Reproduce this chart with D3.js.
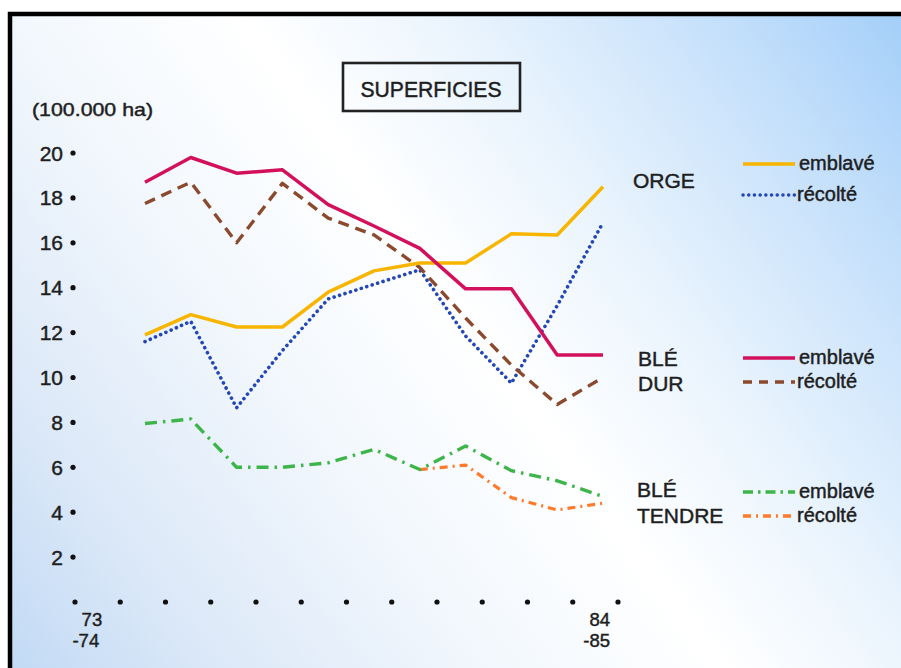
<!DOCTYPE html>
<html>
<head>
<meta charset="utf-8">
<script src="https://cdn.jsdelivr.net/npm/d3@7"></script>
<style>
  html, body { margin: 0; padding: 0; background: #ffffff; }
  svg { display: block; }
  text { font-family: "Liberation Sans", Arial, Helvetica, sans-serif; fill: #1e1e1e;
         stroke: #1e1e1e; stroke-width: 0.45px; }
</style>
</head>
<body>
<div id="chart"></div>
<script>
// ---- Data (100.000 ha) ----
const seasons = [74, 75, 76, 77, 78, 79, 80, 81, 82, 83, 84];
const orgeEmblave      = [11.9, 12.8, 12.25, 12.25, 13.8, 14.75, 15.1, 15.1, 16.4, 16.35, 18.5];
const orgeRecolte      = [11.6, 12.5, 8.65, 11.2, 13.5, 14.15, 14.8, 11.85, 9.75, 13.2, 16.9];
const bleDurEmblave    = [18.7, 19.8, 19.1, 19.25, 17.7, 16.75, 15.75, 13.95, 13.95, 11.0, 11.0];
const bleDurRecolte    = [17.75, 18.7, 16.0, 18.65, 17.1, 16.35, 14.9, 12.65, 10.55, 8.8, 10.0];
const bleTendreEmblave = [7.95, 8.15, 6.0, 6.0, 6.2, 6.8, 5.9, 6.95, 5.85, 5.4, 4.7];
const bleTendreRecolte = [null, null, null, null, null, null, 5.9, 6.1, 4.65, 4.1, 4.4];

const yTicks = [2, 4, 6, 8, 10, 12, 14, 16, 18, 20];
const xTickYears = [73, 84];
const xTickLabels = [["73", "-74"], ["84", "-85"]];
const axisDotCount = 13;

const legendWords = ["emblavé", "récolté"];
const titleText = "SUPERFICIES";
const unitText = "(100.000 ha)";

// ---- Layout ----
const W = 901, H = 668;
const svg = d3.select("#chart").append("svg").attr("width", W).attr("height", H);

const defs = svg.append("defs");
const grad = defs.append("linearGradient").attr("id", "bg")
  .attr("gradientUnits", "userSpaceOnUse")
  .attr("x1", 901).attr("y1", 12).attr("x2", 10).attr("y2", 668);
[[0, "#a4cff9"], [0.15, "#c7e1fb"], [0.33, "#eaf4fd"], [0.48, "#ffffff"],
 [0.64, "#f3f8fd"], [0.84, "#dde9f8"], [1, "#c2daf5"]]
  .forEach(([o, c]) => grad.append("stop").attr("offset", o).attr("stop-color", c));

svg.append("rect").attr("x", 10).attr("y", 14).attr("width", W).attr("height", H)
  .attr("fill", "url(#bg)");
svg.append("path").attr("d", "M10,672V14H905")
  .attr("fill", "none").attr("stroke", "#000").attr("stroke-width", 4.5);

// Scales
const x = d3.scaleLinear().domain([74, 84]).range([145, 603]);
const y = d3.scaleLinear().domain([0, 20]).range([602, 153]);
const dotX = d3.scaleLinear().domain([0, axisDotCount - 1]).range([75, 618]);

// Title box
svg.append("rect").attr("x", 343).attr("y", 63).attr("width", 177).attr("height", 48)
  .attr("fill", "none").attr("stroke", "#222").attr("stroke-width", 2.6);
svg.append("text").attr("x", 431).attr("y", 96.5).attr("text-anchor", "middle")
  .attr("font-size", 22).attr("textLength", 141).attr("lengthAdjust", "spacingAndGlyphs")
  .text(titleText);

// Unit
svg.append("text").attr("x", 32).attr("y", 116).attr("font-size", 19)
  .attr("textLength", 121).attr("lengthAdjust", "spacingAndGlyphs").text(unitText);

// Y axis: labels + dots
const yAx = svg.append("g");
yAx.selectAll("circle").data(yTicks).join("circle")
  .attr("cx", 73).attr("cy", d => y(d)).attr("r", 2.6).attr("fill", "#111");
yAx.selectAll("text").data(yTicks).join("text")
  .attr("x", 63).attr("y", d => y(d) + 7.5).attr("text-anchor", "end")
  .attr("font-size", 21).text(d => d);

// X axis dots
svg.append("g").selectAll("circle").data(d3.range(axisDotCount)).join("circle")
  .attr("cx", d => dotX(d)).attr("cy", y(0)).attr("r", 2.6).attr("fill", "#111");
// X labels
xTickYears.forEach((yr, i) => {
  const t = svg.append("text").attr("text-anchor", "end").attr("font-size", 18.5);
  t.append("tspan").attr("x", x(yr) + (i === 0 ? 3 : 7)).attr("y", 626).text(xTickLabels[i][0]);
  t.append("tspan").attr("x", x(yr) + (i === 0 ? 0 : 7)).attr("y", 647).text(xTickLabels[i][1]);
});

// Series
const series = [
  { vals: bleTendreRecolte, color: "#ff7a2a", dash: "8 5 2 5", cap: "butt", w: 3.2 },
  { vals: bleTendreEmblave, color: "#3db54a", dash: "12 6 2.5 6", cap: "butt", w: 3.4 },
  { vals: orgeRecolte, color: "#2447b5", dash: "0.1 5.6", cap: "round", w: 3.6 },
  { vals: bleDurRecolte, color: "#8b4a2e", dash: "11 7", cap: "butt", w: 3.4 },
  { vals: orgeEmblave, color: "#f7b500", dash: null, cap: "butt", w: 3.5 },
  { vals: bleDurEmblave, color: "#d3105c", dash: null, cap: "butt", w: 3.5 }
];
const line = d3.line().defined(d => d != null).x((d, i) => x(seasons[i])).y(d => y(d));
series.forEach(s => {
  svg.append("path").attr("d", line(s.vals))
    .attr("fill", "none").attr("stroke", s.color).attr("stroke-width", s.w)
    .attr("stroke-linejoin", "round").attr("stroke-linecap", s.cap)
    .attr("stroke-dasharray", s.dash);
});

// Legend
const legend = [
  { label: ["ORGE"], lx: 633, ly: [188], items: [
      { color: "#f7b500", dash: null, cap: "butt", ly: 164 },
      { color: "#2447b5", dash: "0.1 5.6", cap: "round", ly: 195 }] },
  { label: ["BLÉ", "DUR"], lx: 638, ly: [366, 391], items: [
      { color: "#d3105c", dash: null, cap: "butt", ly: 358 },
      { color: "#8b4a2e", dash: "9 7", cap: "butt", ly: 382 }] },
  { label: ["BLÉ", "TENDRE"], lx: 637, ly: [497, 523], items: [
      { color: "#3db54a", dash: "10 5 2.5 5", cap: "butt", ly: 492 },
      { color: "#ff7a2a", dash: "8 5 2 5", cap: "butt", ly: 516 }] }
];
legend.forEach(g => {
  g.label.forEach((t, k) => {
    svg.append("text").attr("x", g.lx).attr("y", g.ly[k]).attr("font-size", 21).text(t);
  });
  g.items.forEach((it, k) => {
    svg.append("line").attr("x1", 743).attr("x2", 795).attr("y1", it.ly).attr("y2", it.ly)
      .attr("stroke", it.color).attr("stroke-width", 3.5)
      .attr("stroke-dasharray", it.dash).attr("stroke-linecap", it.cap);
    svg.append("text").attr("x", k === 0 ? 799 : 797).attr("y", it.ly + 6)
      .attr("font-size", 20).text(legendWords[k]);
  });
});
</script>
</body>
</html>
